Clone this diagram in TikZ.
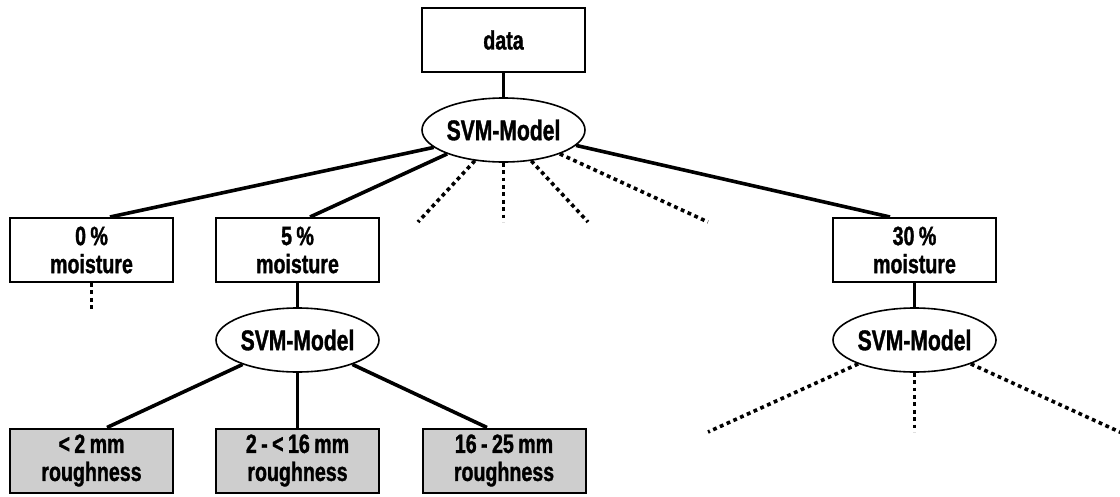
\documentclass[tikz,border=0pt]{standalone}
\usepackage{fontspec}
\setmainfont[FakeStretch=0.74, BoldFeatures={FakeBold=1.2}]{Liberation Sans}
\usetikzlibrary{shapes.geometric}
\definecolor{boxgray}{RGB}{206,206,206}
\begin{document}
\begin{tikzpicture}[x=1pt,y=-1pt,
  every node/.style={font=\fontsize{26.5}{28}\selectfont\bfseries, align=center, inner sep=0pt},
  box/.style={draw, line width=2pt, minimum width=163pt, minimum height=64pt},
  leaf/.style={box, fill=boxgray},
  model/.style={ellipse, draw, line width=1.6pt, minimum width=163pt, minimum height=64pt,
    font=\fontsize{28.5}{30}\selectfont\bfseries},
  link/.style={line width=3.6pt},
  open/.style={line width=3.6pt, dash pattern=on 3.8pt off 3.6pt}]
\useasboundingbox (0,0) rectangle (1120,496);

% nodes
\node[box]   (data) at (503.5,40)  {data};
\node[model] (m0)   at (503.5,130) {SVM-Model};
\node[box]   (b0)   at (91.5,250)  {0\,\%\\moisture};
\node[box]   (b5)   at (297.5,250) {5\,\%\\moisture};
\node[box]   (b30)  at (914.5,250) {30\,\%\\moisture};
\node[model] (m5)   at (297.5,340) {SVM-Model};
\node[model] (m30)  at (914.5,340) {SVM-Model};
\node[leaf]  (g1)   at (91.5,460.5)  {<\,2\,mm\\roughness};
\node[leaf]  (g2)   at (297.5,460.5) {2\,-\,<\,16\,mm\\roughness};
\node[leaf]  (g3)   at (504,460.5)   {16\,-\,25\,mm\\roughness};

% loose ends of the open branches
\coordinate (o1) at (418,222);
\coordinate (o2) at (503.5,222);
\coordinate (o3) at (588,222);
\coordinate (o4) at (708,222);
\coordinate (o5) at (91.5,310);
\coordinate (o6) at (708,432);
\coordinate (o7) at (914.5,432);
\coordinate (o8) at (1122,433);

% solid connectors
\draw[link] (data.south) -- (m0.north);
\draw[link] (m0.194) -- ([xshift=18.5pt]b0.north);
\draw[link] (m0.203) -- ([xshift=12.5pt]b5.north);
\draw[link] (m0.348) -- ([xshift=-24.5pt]b30.north);
\draw[link] (b5.south) -- (m5.north);
\draw[link] (b30.south) -- (m30.north);
\draw[link] (m5.204) -- ([xshift=15.5pt]g1.north);
\draw[link] (m5.south) -- (g2.north);
\draw[link] (m5.336) -- ([xshift=-17pt]g3.north);

% dotted connectors
\draw[open] (m0.227) -- (o1);
\draw[open] (m0.south) -- (o2);
\draw[open] (m0.312) -- (o3);
\draw[open] (m0.337) -- (o4);
\draw[open] (b0.south) -- (o5);
\draw[open] (m30.203) -- (o6);
\draw[open] (m30.south) -- (o7);
\draw[open] (m30.337) -- (o8);
\end{tikzpicture}
\end{document}
